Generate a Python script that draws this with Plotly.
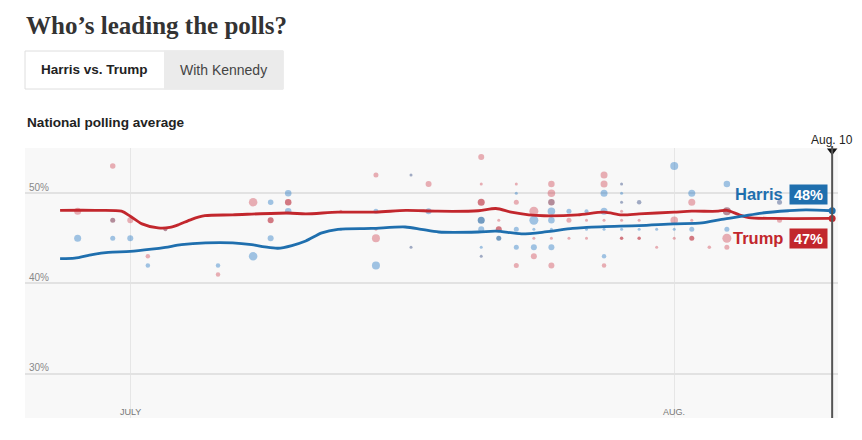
import plotly.graph_objects as go

# ---------------- data ----------------
trump_dates = ["2024-06-27", "2024-06-29", "2024-06-30 12:00", "2024-07-01", "2024-07-01 16:00",
               "2024-07-02 14:00", "2024-07-03 06:00", "2024-07-03 18:00", "2024-07-04 12:00",
               "2024-07-05 06:00", "2024-07-06 20:00", "2024-07-10", "2024-07-11", "2024-07-12 20:00",
               "2024-07-15", "2024-07-16 17:00", "2024-07-18 12:00", "2024-07-20 20:00",
               "2024-07-21 20:00", "2024-07-22 17:00", "2024-07-23 17:00", "2024-07-24 14:00",
               "2024-07-26 12:00", "2024-07-28", "2024-07-29", "2024-07-30", "2024-08-01",
               "2024-08-02", "2024-08-03 12:00", "2024-08-04", "2024-08-04 17:00",
               "2024-08-05 06:00", "2024-08-06 14:00", "2024-08-10"]
trump_avg = [48.1, 48.1, 48.0, 47.45, 46.6, 46.15, 46.2, 46.5, 47.1, 47.5,
             47.6, 47.8, 47.7, 47.9, 47.9, 48.1, 48.0, 48.05, 48.3, 47.9,
             47.6, 47.5, 47.6, 47.9, 47.6, 47.7, 47.9, 48.0, 48.0, 48.1,
             47.6, 47.3, 47.2, 47.2]

harris_dates = ["2024-06-27", "2024-06-27 20:00", "2024-06-28 20:00", "2024-06-29 18:00",
                "2024-07-01", "2024-07-02 05:00", "2024-07-03", "2024-07-03 22:00",
                "2024-07-05 07:00", "2024-07-06 20:00", "2024-07-07 22:00", "2024-07-08 16:00",
                "2024-07-09 10:00", "2024-07-10 05:00", "2024-07-11", "2024-07-11 22:00",
                "2024-07-12 20:00", "2024-07-14 18:00", "2024-07-16 16:00", "2024-07-17 14:00",
                "2024-07-18 14:00", "2024-07-20 20:00", "2024-07-21 20:00", "2024-07-23 07:00",
                "2024-07-24 15:00", "2024-07-26 05:00", "2024-07-27", "2024-07-28",
                "2024-07-30", "2024-08-01", "2024-08-02 14:00", "2024-08-03 17:00",
                "2024-08-04 21:00", "2024-08-06", "2024-08-07 12:00", "2024-08-08 12:00",
                "2024-08-10"]
harris_avg = [42.75, 42.8, 43.2, 43.45, 43.55, 43.8, 44.0, 44.3, 44.5, 44.5,
              44.3, 44.05, 43.9, 44.2, 44.7, 45.6, 46.0, 46.1, 46.25, 46.0,
              45.7, 45.7, 45.8, 45.5, 45.7, 46.1, 46.2, 46.3, 46.4, 46.6,
              46.7, 47.1, 47.45, 47.8, 48.05, 48.15, 48.05]

# individual polls: date, percentage, tone (b/r light, B/R dark, m mixed, g grey), weight (dot size)
poll_dates = (["2024-06-28"] * 2 + ["2024-06-30"] * 3 + ["2024-07-01"] * 2 + ["2024-07-02"] * 2 +
              ["2024-07-03"] + ["2024-07-06"] * 2 + ["2024-07-08"] * 2 + ["2024-07-09"] * 3 +
              ["2024-07-10"] * 3 + ["2024-07-13"] * 2 + ["2024-07-15"] * 5 + ["2024-07-17"] * 2 +
              ["2024-07-18"] * 2 + ["2024-07-21"] * 7 + ["2024-07-22"] * 3 + ["2024-07-23"] * 6 +
              ["2024-07-24"] * 6 + ["2024-07-25"] * 9 + ["2024-07-26"] * 3 + ["2024-07-27"] * 4 +
              ["2024-07-28"] * 8 + ["2024-07-29"] * 7 + ["2024-07-30"] * 4 + ["2024-07-31"] * 2 +
              ["2024-08-01"] * 4 + ["2024-08-02"] * 5 + ["2024-08-03"] + ["2024-08-04"] * 5 +
              ["2024-08-07"] * 2)
poll_pct = [48, 45,
            53, 47, 45,
            47, 45,
            43, 42,
            46,
            42, 41,
            49, 43,
            49, 47, 45,
            50, 49, 48,
            48, 46,
            52, 48, 46, 45, 42,
            52, 44,
            51, 48,
            54, 51, 49, 47, 46, 44, 43,
            47, 46, 45,
            51, 50, 49, 46, 44, 42,
            48, 47, 46, 45, 44, 43,
            51, 50, 49, 48, 47, 46, 45, 44, 42,
            48, 47, 45,
            48, 47, 46, 45,
            52, 51, 50, 48, 47, 46, 43, 42,
            51, 50, 49, 48, 47, 46, 45,
            49, 47, 46, 45,
            46, 44,
            53, 47, 46, 45,
            50, 49, 47, 46, 45,
            44,
            51, 48, 46, 45, 44,
            49, 47]
poll_tone = ["r", "b",
             "r", "m", "b",
             "r", "b",
             "r", "b",
             "m",
             "b", "r",
             "r", "b",
             "b", "R", "b",
             "b", "R", "b",
             "r", "b",
             "r", "b", "r", "r", "b",
             "g", "g",
             "r", "b",
             "r", "r", "R", "B", "b", "b", "g",
             "r", "R", "B",
             "r", "b", "r", "b", "b", "r",
             "r", "b", "b", "r", "b", "r",
             "r", "r", "m", "b", "b", "b", "r", "b", "r",
             "b", "r", "r",
             "b", "r", "b", "r",
             "r", "r", "b", "b", "r", "b", "b", "r",
             "g", "b", "g", "r", "r", "b", "R",
             "g", "r", "b", "R",
             "b", "r",
             "b", "r", "b", "r",
             "b", "r", "r", "b", "R",
             "r",
             "b", "m", "b", "r", "r",
             "g", "r"]
poll_weight = [7, 7,
               5.5, 5, 5,
               6, 6,
               4.5, 4.5,
               4,
               4.5, 4.5,
               8.5, 8.5,
               5.5, 6, 6,
               6.5, 6.5, 6.5,
               3, 3,
               5, 5, 3, 8, 8,
               3, 3,
               6, 6,
               6, 3, 7, 7, 6, 3, 3,
               3, 6, 5,
               3, 3, 5, 5, 5, 5,
               9, 9, 3, 3, 6, 6,
               6.5, 7.5, 6.5, 7.5, 6.5, 3, 3, 6, 6,
               5, 5, 3,
               4, 3, 3, 3,
               7, 7, 7, 7, 3, 3, 4.5, 4.5,
               3, 3, 3, 3, 3, 3, 3.5,
               4.5, 3, 3, 3.5,
               3, 3,
               8, 7.5, 3, 3,
               7, 7, 3, 5, 5,
               3.5,
               6.5, 8, 5, 9, 5,
               5, 5]

candidates = ["Harris", "Trump"]
latest_values = [48, 47]
latest_date = "2024-08-10"
latest_label = "Aug. 10"

x_ticks = ["2024-07-01", "2024-08-01"]
x_tick_labels = ["JULY", "AUG."]
y_ticks = [30, 40, 50]
y_tick_labels = ["30%", "40%", "50%"]

X_RANGE = ["2024-06-25", "2024-08-10 08:00"]
Y_RANGE = [25.1, 55.0]

title_text = "Who’s leading the polls?"
tab_labels = ["Harris vs. Trump", "With Kennedy"]
subtitle_text = "National polling average"

# ---------------- style ----------------
HARRIS = "#1f6fae"
TRUMP = "#c2272d"
TONES = {
    "b": "rgba(35,118,195,0.6)",
    "r": "rgba(208,70,83,0.6)",
    "B": "rgba(35,100,160,0.9)",
    "R": "rgba(185,35,50,0.85)",
    "m": "rgba(125,55,80,0.8)",
    "g": "rgba(70,90,140,0.7)",
}
SANS = "Liberation Sans, Arial, sans-serif"
SERIF = "Liberation Serif, Times New Roman, serif"

# the page body has an 8px margin, so the figure is drawn 8px in from the window corner
OFF = 8
W, H = 862 - OFF, 440 - OFF
# plot area in window pixels: x 25..838, y 148..418
ML, MT = 25 - OFF, 148 - OFF
MR, MB = W - (838 - OFF), H - (418 - OFF)
PW, PH = W - ML - MR, H - MT - MB


def px(x):
    """window pixel x -> paper x"""
    return (x - OFF - ML) / PW


def py(y):
    """window pixel y -> paper y"""
    return (H - MB - (y - OFF)) / PH


fig = go.Figure()

# poll dots
fig.add_trace(go.Scatter(
    x=poll_dates, y=poll_pct, mode="markers",
    marker=dict(size=poll_weight, color=[TONES[t] for t in poll_tone], line=dict(width=0)),
    hoverinfo="skip", showlegend=False))

# averages
fig.add_trace(go.Scatter(x=trump_dates, y=trump_avg, mode="lines",
                         line=dict(color=TRUMP, width=2.8, shape="spline", smoothing=0.8),
                         hoverinfo="skip", showlegend=False))
fig.add_trace(go.Scatter(x=harris_dates, y=harris_avg, mode="lines",
                         line=dict(color=HARRIS, width=2.8, shape="spline", smoothing=0.8),
                         hoverinfo="skip", showlegend=False))
# end dots
fig.add_trace(go.Scatter(x=[harris_dates[-1], trump_dates[-1]], y=[harris_avg[-1], trump_avg[-1]],
                         mode="markers", marker=dict(size=7, color=[HARRIS, TRUMP]),
                         cliponaxis=False, hoverinfo="skip", showlegend=False))
# triangle marker at top of "today" line
fig.add_trace(go.Scatter(x=[latest_date], y=[Y_RANGE[1] - 0.3], mode="markers",
                         marker=dict(symbol="triangle-down", size=9, color="#111"),
                         cliponaxis=False, hoverinfo="skip", showlegend=False))

shapes = []
# vertical latest line
shapes.append(dict(type="line", xref="x", yref="paper", x0=latest_date, x1=latest_date,
                   y0=0, y1=py(146), line=dict(color="#555", width=2), layer="above"))
# tabs
shapes.append(dict(type="rect", xref="paper", yref="paper", x0=px(25), x1=px(283),
                   y0=py(89), y1=py(51), fillcolor="white", line=dict(color="#dedede", width=1)))
shapes.append(dict(type="rect", xref="paper", yref="paper", x0=px(164), x1=px(283.5),
                   y0=py(89.5), y1=py(50.5), fillcolor="#ebebeb", line=dict(width=0)))

ann = []
ann.append(dict(text=f"<b>{title_text}</b>", xref="paper", yref="paper", x=px(24), y=py(26),
                xanchor="left", yanchor="middle", showarrow=False,
                font=dict(family=SERIF, size=25, color="#333")))
ann.append(dict(text=f"<b>{tab_labels[0]}</b>", xref="paper", yref="paper", x=px(94.5), y=py(70),
                xanchor="center", yanchor="middle", showarrow=False,
                font=dict(family=SANS, size=13.5, color="#222")))
ann.append(dict(text=tab_labels[1], xref="paper", yref="paper", x=px(223.5), y=py(70),
                xanchor="center", yanchor="middle", showarrow=False,
                font=dict(family=SANS, size=14, color="#444")))
ann.append(dict(text=f"<b>{subtitle_text}</b>", xref="paper", yref="paper", x=px(25), y=py(122),
                xanchor="left", yanchor="middle", showarrow=False,
                font=dict(family=SANS, size=13.6, color="#222")))
ann.append(dict(text=latest_label, xref="x", yref="paper", x=latest_date, y=py(140),
                xanchor="center", yanchor="middle", showarrow=False,
                font=dict(family=SANS, size=12, color="#222")))
# y tick labels
for v, lab in zip(y_ticks, y_tick_labels):
    ann.append(dict(text=lab, xref="paper", yref="y", x=px(26.5), y=v, yshift=6,
                    xanchor="left", yanchor="middle", showarrow=False,
                    font=dict(family=SANS, size=10, color="#888")))
# x tick labels
for d, lab in zip(x_ticks, x_tick_labels):
    ann.append(dict(text=lab, xref="x", yref="paper", x=d, y=py(412),
                    xanchor="center", yanchor="middle", showarrow=False,
                    font=dict(family=SANS, size=9, color="#777")))
# candidate labels
colors = [HARRIS, TRUMP]
shifts = [17, -18]
for name, val, c, s in zip(candidates, latest_values, colors, shifts):
    ann.append(dict(text=f"<b>{val}%</b>", xref="x", yref="y", x=latest_date, y=val,
                    xanchor="right", yanchor="middle", xshift=-4, yshift=s,
                    width=37, height=19, align="center", bgcolor=c, borderpad=0,
                    showarrow=False, font=dict(family=SANS, size=14.5, color="white")))
    ann.append(dict(text=f"<b>{name}</b>", xref="x", yref="y", x=latest_date, y=val,
                    xanchor="right", yanchor="middle", xshift=-47, yshift=s,
                    showarrow=False, font=dict(family=SANS, size=16.5, color=c)))

fig.update_layout(
    width=W, height=H,
    margin=dict(l=ML, r=MR, t=MT, b=MB, pad=0),
    paper_bgcolor="white", plot_bgcolor="#f8f8f8",
    shapes=shapes, annotations=ann,
    xaxis=dict(range=X_RANGE, type="date", tickvals=x_ticks, showticklabels=False,
               showgrid=True, gridcolor="#e6e6e6", gridwidth=1, zeroline=False,
               showline=False, ticks=""),
    yaxis=dict(range=Y_RANGE, tickvals=y_ticks, showticklabels=False,
               showgrid=True, gridcolor="#e2e2e2", gridwidth=2, zeroline=False,
               showline=False, ticks=""),
    showlegend=False,
)

fig.write_html("out.html")
